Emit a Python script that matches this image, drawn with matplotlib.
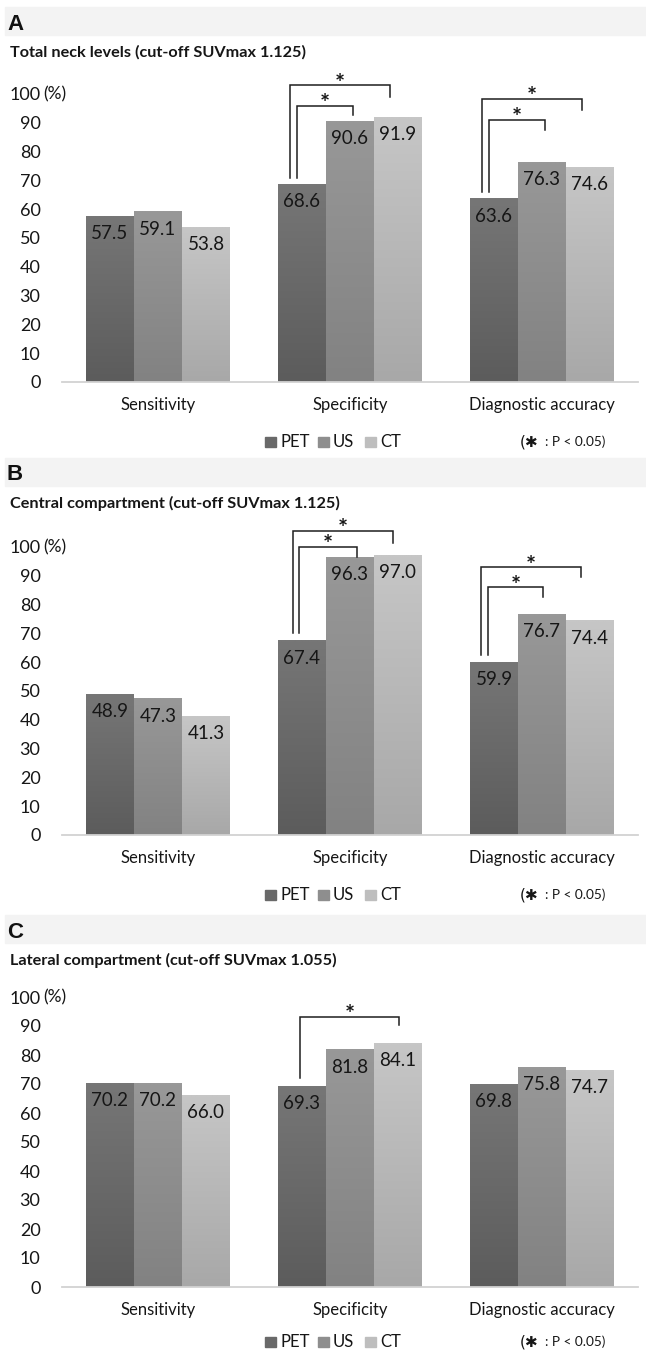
import matplotlib
matplotlib.use("Agg")
import matplotlib.pyplot as plt
import numpy as np
from matplotlib.patches import Rectangle

W, H = 646, 1354

categories = ["Sensitivity", "Specificity", "Diagnostic accuracy"]
methods = ["PET", "US", "CT"]
letters = ["A", "B", "C"]
titles = ["Total neck levels (cut-off SUVmax 1.125)",
          "Central compartment (cut-off SUVmax 1.125)",
          "Lateral compartment (cut-off SUVmax 1.055)"]

pet_a = [57.5, 68.6, 63.6]
us_a = [59.1, 90.6, 76.3]
ct_a = [53.8, 91.9, 74.6]

pet_b = [48.9, 67.4, 59.9]
us_b = [47.3, 96.3, 76.7]
ct_b = [41.3, 97.0, 74.4]

pet_c = [70.2, 69.3, 69.8]
us_c = [70.2, 81.8, 75.8]
ct_c = [66.0, 84.1, 74.7]

# significant pairs per panel: (category index, compared method)
sig_a = [(1, "US"), (1, "CT"), (2, "US"), (2, "CT")]
sig_b = [(1, "US"), (1, "CT"), (2, "US"), (2, "CT")]
sig_c = [(1, "CT")]

# bracket layout (data units): left bottom, top, right bottom, x offsets in px
bracket_layout = {
    ("A", 1, "US"): (71.0, 96.0, 92.7, -5, 3),
    ("A", 1, "CT"): (71.0, 103.0, 99.0, -12, -8),
    ("A", 2, "US"): (66.0, 91.0, 87.5, -5, 3),
    ("A", 2, "CT"): (66.0, 98.3, 94.4, -12, -8),
    ("B", 1, "US"): (70.0, 100.0, 96.6, -3, 7),
    ("B", 1, "CT"): (70.0, 105.6, 101.4, -9, -5),
    ("B", 2, "US"): (62.5, 86.0, 82.6, -6, 1),
    ("B", 2, "CT"): (62.5, 93.0, 89.6, -13, -9),
    ("C", 1, "CT"): (72.0, 93.1, 90.3, -2, 1),
}

bar_top = {"PET": np.array([0x76, 0x76, 0x76]) / 255,
           "US": np.array([0x98, 0x98, 0x98]) / 255,
           "CT": np.array([0xc6, 0xc6, 0xc6]) / 255}
bar_bot = {"PET": np.array([0x5c, 0x5c, 0x5c]) / 255,
           "US": np.array([0x82, 0x82, 0x82]) / 255,
           "CT": np.array([0xa8, 0xa8, 0xa8]) / 255}
legend_col = {"PET": "#696969", "US": "#8e8e8e", "CT": "#bebebe"}

panels = [
    dict(letter="A", title=titles[0], vals=[pet_a, us_a, ct_a], sig=sig_a,
         band=7, base=382, top=94, legend=442),
    dict(letter="B", title=titles[1], vals=[pet_b, us_b, ct_b], sig=sig_b,
         band=458, base=835, top=547, legend=895),
    dict(letter="C", title=titles[2], vals=[pet_c, us_c, ct_c], sig=sig_c,
         band=915, base=1287, top=997, legend=1342),
]

plt.rcParams["font.family"] = ["Lato", "DejaVu Sans"]
TXT = "#161616"

fig = plt.figure(figsize=(W / 100, H / 100), dpi=100)


def fx(px):
    return px / W


def fy(py):
    return 1 - py / H


PX_PER_CAT = 576 / 3.0
offsets = {"PET": -0.25, "US": 0.0, "CT": 0.25}

for p in panels:
    # header band with panel letter
    fig.patches.append(Rectangle((fx(5), fy(p["band"] + 28)), 1, 28 / H,
                                 transform=fig.transFigure, color="#f3f3f3", zorder=0))
    fig.text(fx(7), fy(p["band"] + 17), p["letter"], fontsize=16, fontweight="bold",
             family="Liberation Sans", va="center", ha="left", color="#111111")
    fig.text(fx(10), fy(p["band"] + 45), p["title"], fontsize=11.7, fontweight="bold",
             va="center", ha="left", color=TXT)

    ax = fig.add_axes([fx(62), fy(p["base"]), fx(638) - fx(62), (p["base"] - p["top"]) / H])
    ax.set_xlim(-0.5, 2.5)
    ax.set_ylim(0, 100)

    x = np.arange(len(categories))
    grad = np.linspace(0, 1, 64)[:, None, None]
    for m, vals in zip(methods, p["vals"]):
        rgb = bar_bot[m] + (bar_top[m] - bar_bot[m]) * grad
        for xi, v in zip(x + offsets[m], vals):
            ax.imshow(rgb, extent=[xi - 0.125, xi + 0.125, 0, v], origin="lower",
                      aspect="auto", interpolation="bilinear", zorder=2)
            ax.text(xi, v - 6, f"{v:.1f}", ha="center", va="center",
                    fontsize=13.5, color=TXT, zorder=3)
    ax.set_xlim(-0.5, 2.5)
    ax.set_ylim(0, 100)

    for s in ("top", "right", "left"):
        ax.spines[s].set_visible(False)
    ax.spines["bottom"].set_color("#d2d2d2")
    ax.spines["bottom"].set_linewidth(1.3)
    ax.spines["bottom"].set_zorder(4)

    ax.set_yticks(range(0, 101, 10))
    ax.set_yticklabels([str(t) for t in range(0, 101, 10)])
    ax.tick_params(axis="y", length=0, pad=15.5, labelsize=13, labelcolor=TXT)
    ax.set_xticks(x)
    ax.set_xticklabels(categories)
    ax.tick_params(axis="x", length=0, pad=11, labelsize=12, labelcolor=TXT)
    fig.text(fx(43), fy(p["top"]), "(%)", fontsize=12.5, va="center", ha="left", color=TXT)

    # significance brackets
    for ci, m in p["sig"]:
        lb, top, rb, dl, dr = bracket_layout[(p["letter"], ci, m)]
        xl = ci + offsets["PET"] + dl / PX_PER_CAT
        xr = ci + offsets[m] + dr / PX_PER_CAT
        ax.plot([xl, xl, xr, xr], [lb, top, top, rb], color="#1e1e1e", lw=1.1,
                clip_on=False, zorder=5, solid_joinstyle="miter")
        ax.text((xl + xr) / 2, top - 3.6, "*", ha="center", va="bottom",
                fontsize=17, fontweight="bold", color=TXT, clip_on=False)

    # legend
    ly = p["legend"]
    for m, lx in zip(methods, [265, 318, 365]):
        fig.patches.append(Rectangle((fx(lx), fy(ly + 5)), 11 / W, 10 / H,
                                     transform=fig.transFigure, color=legend_col[m]))
        fig.text(fx(lx + 15), fy(ly), m, fontsize=12, va="center", ha="left", color=TXT)
    fig.text(fx(520), fy(ly), "(\u2731", fontsize=11, va="center", ha="left",
             color=TXT, family=["DejaVu Sans"])
    fig.text(fx(545), fy(ly), ": P < 0.05)", fontsize=9.8, va="center", ha="left", color=TXT)

fig.savefig("out.png", dpi=100, facecolor="white")
